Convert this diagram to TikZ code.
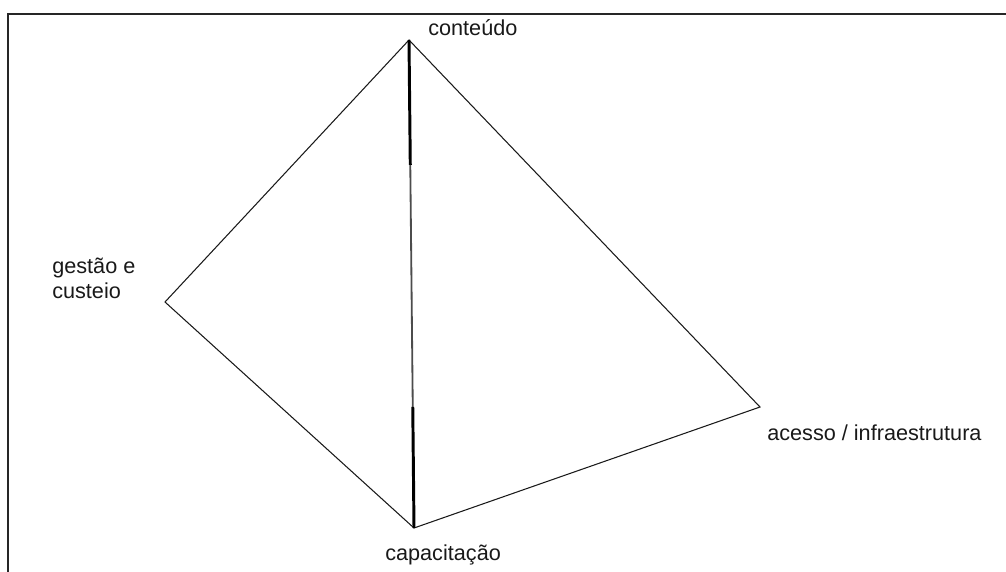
\documentclass[tikz,border=0pt]{standalone}
\usepackage{fontspec}
\setmainfont{Liberation Sans}
\usetikzlibrary{calc}

\begin{document}
\begin{tikzpicture}[
    x=0.025cm, y=-0.025cm,
    edge/.style={line width=0.75pt, draw=black!90},
    axis/.style={line width=2.1pt, draw=black},
    axisback/.style={line width=1.3pt, draw=black!70},
    frame/.style={line width=1.4pt, draw=black!85},
    label/.style={anchor=base west, inner sep=0pt, font=\fontsize{15.4}{17.7}\selectfont, text=black!90, align=left}
]

% Canvas
\useasboundingbox (0,0) rectangle (1006,572);
\clip (0,0) rectangle (1006,572);
\draw[frame] (8,14) rectangle (1030,600);

% Corners of the pyramid
\coordinate (top) at (409,40);
\coordinate (left) at (165,302);
\coordinate (right) at (760,407);
\coordinate (bottom) at (414,528);

% Outer edges
\draw[edge] (top) -- (left) -- (bottom) -- (right) -- cycle;

% Vertical edge (front parts thick, back part thin)
\coordinate (upper) at ($(top)!0.256!(bottom)$);
\coordinate (lower) at ($(top)!0.752!(bottom)$);
\draw[axis] (top) -- (upper);
\draw[axisback] (upper) -- (lower);
\draw[axis] (lower) -- (bottom);

% Labels
\node[label] (conteudo) at (428,35) {conteúdo};
\node[label] (gestao) at (52,298) {gestão e\\custeio};
\node[label] (acesso) at (767,440) {acesso / infraestrutura};
\node[label] (capacitacao) at (385,560) {capacitação};

\end{tikzpicture}
\end{document}
